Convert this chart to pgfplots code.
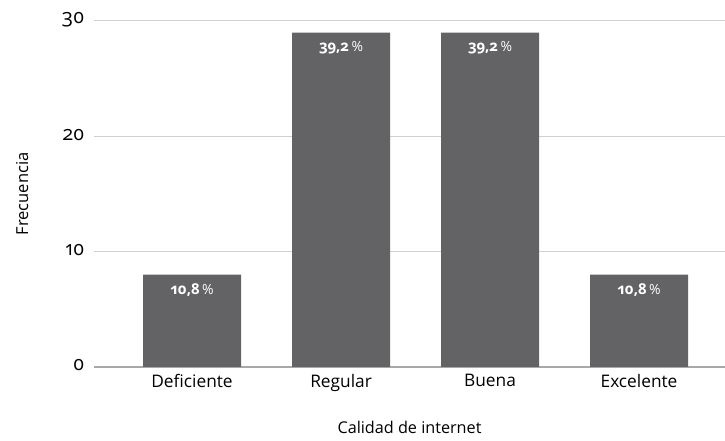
\documentclass[border=0pt]{standalone}
\usepackage{pgfplots}
\pgfplotsset{compat=1.18}
\usepackage{fontspec}
\setmainfont{Open Sans}[Numbers=OldStyle]
\definecolor{barc}{HTML}{636365}
\definecolor{gridc}{HTML}{D0D0D0}
\definecolor{zeroc}{HTML}{A8A8A8}
\begin{document}
\begin{tikzpicture}
\useasboundingbox (-94pt,-74pt) rectangle (631pt,367pt);
\begin{axis}[
  at={(0,0)}, anchor=south west,
  scale only axis, width=631pt, height=346pt,
  xmin=-0.658, xmax=3.577, ymin=0, ymax=30,
  axis line style={draw=none}, tick style={draw=none},
  xtick={0,1,2,3}, xticklabels={Deficiente,Regular,Buena,Excelente},
  ytick={10,20,30}, extra y ticks={0},
  extra y tick style={grid style={zeroc, line width=1.2pt}},
  ymajorgrids, grid style={gridc, line width=1pt},
  /pgf/number format/assume math mode=true,
  xticklabel style={font=\fontsize{17.3}{20}\selectfont, yshift=-4pt},
  yticklabel style={font=\fontsize{20}{23}\selectfont, xshift=-6pt, yshift=1.5pt},
  xlabel={Calidad de internet}, ylabel={Frecuencia},
  xlabel style={font=\fontsize{16.2}{19}\selectfont, at={(axis description cs:0.5,-0.176)}, anchor=center},
  ylabel style={font=\fontsize{16.5}{19}\selectfont, at={(axis description cs:-0.114,0.5)}, anchor=center},
]
\addplot[ybar, bar width=0.658, fill=barc, draw=none,
  point meta=explicit symbolic,
  nodes near coords={\textbf{\pgfplotspointmeta}\,{\fontsize{14}{16}\selectfont\%}},
  every node near coord/.append style={anchor=north, yshift=-5pt, text=white, font=\fontsize{15}{18}\selectfont}]
  table[x=x, y=y, meta=lbl] {
x y lbl
0 8 10,8
1 29 39,2
2 29 39,2
3 8 10,8
};
\end{axis}
\end{tikzpicture}
\end{document}
